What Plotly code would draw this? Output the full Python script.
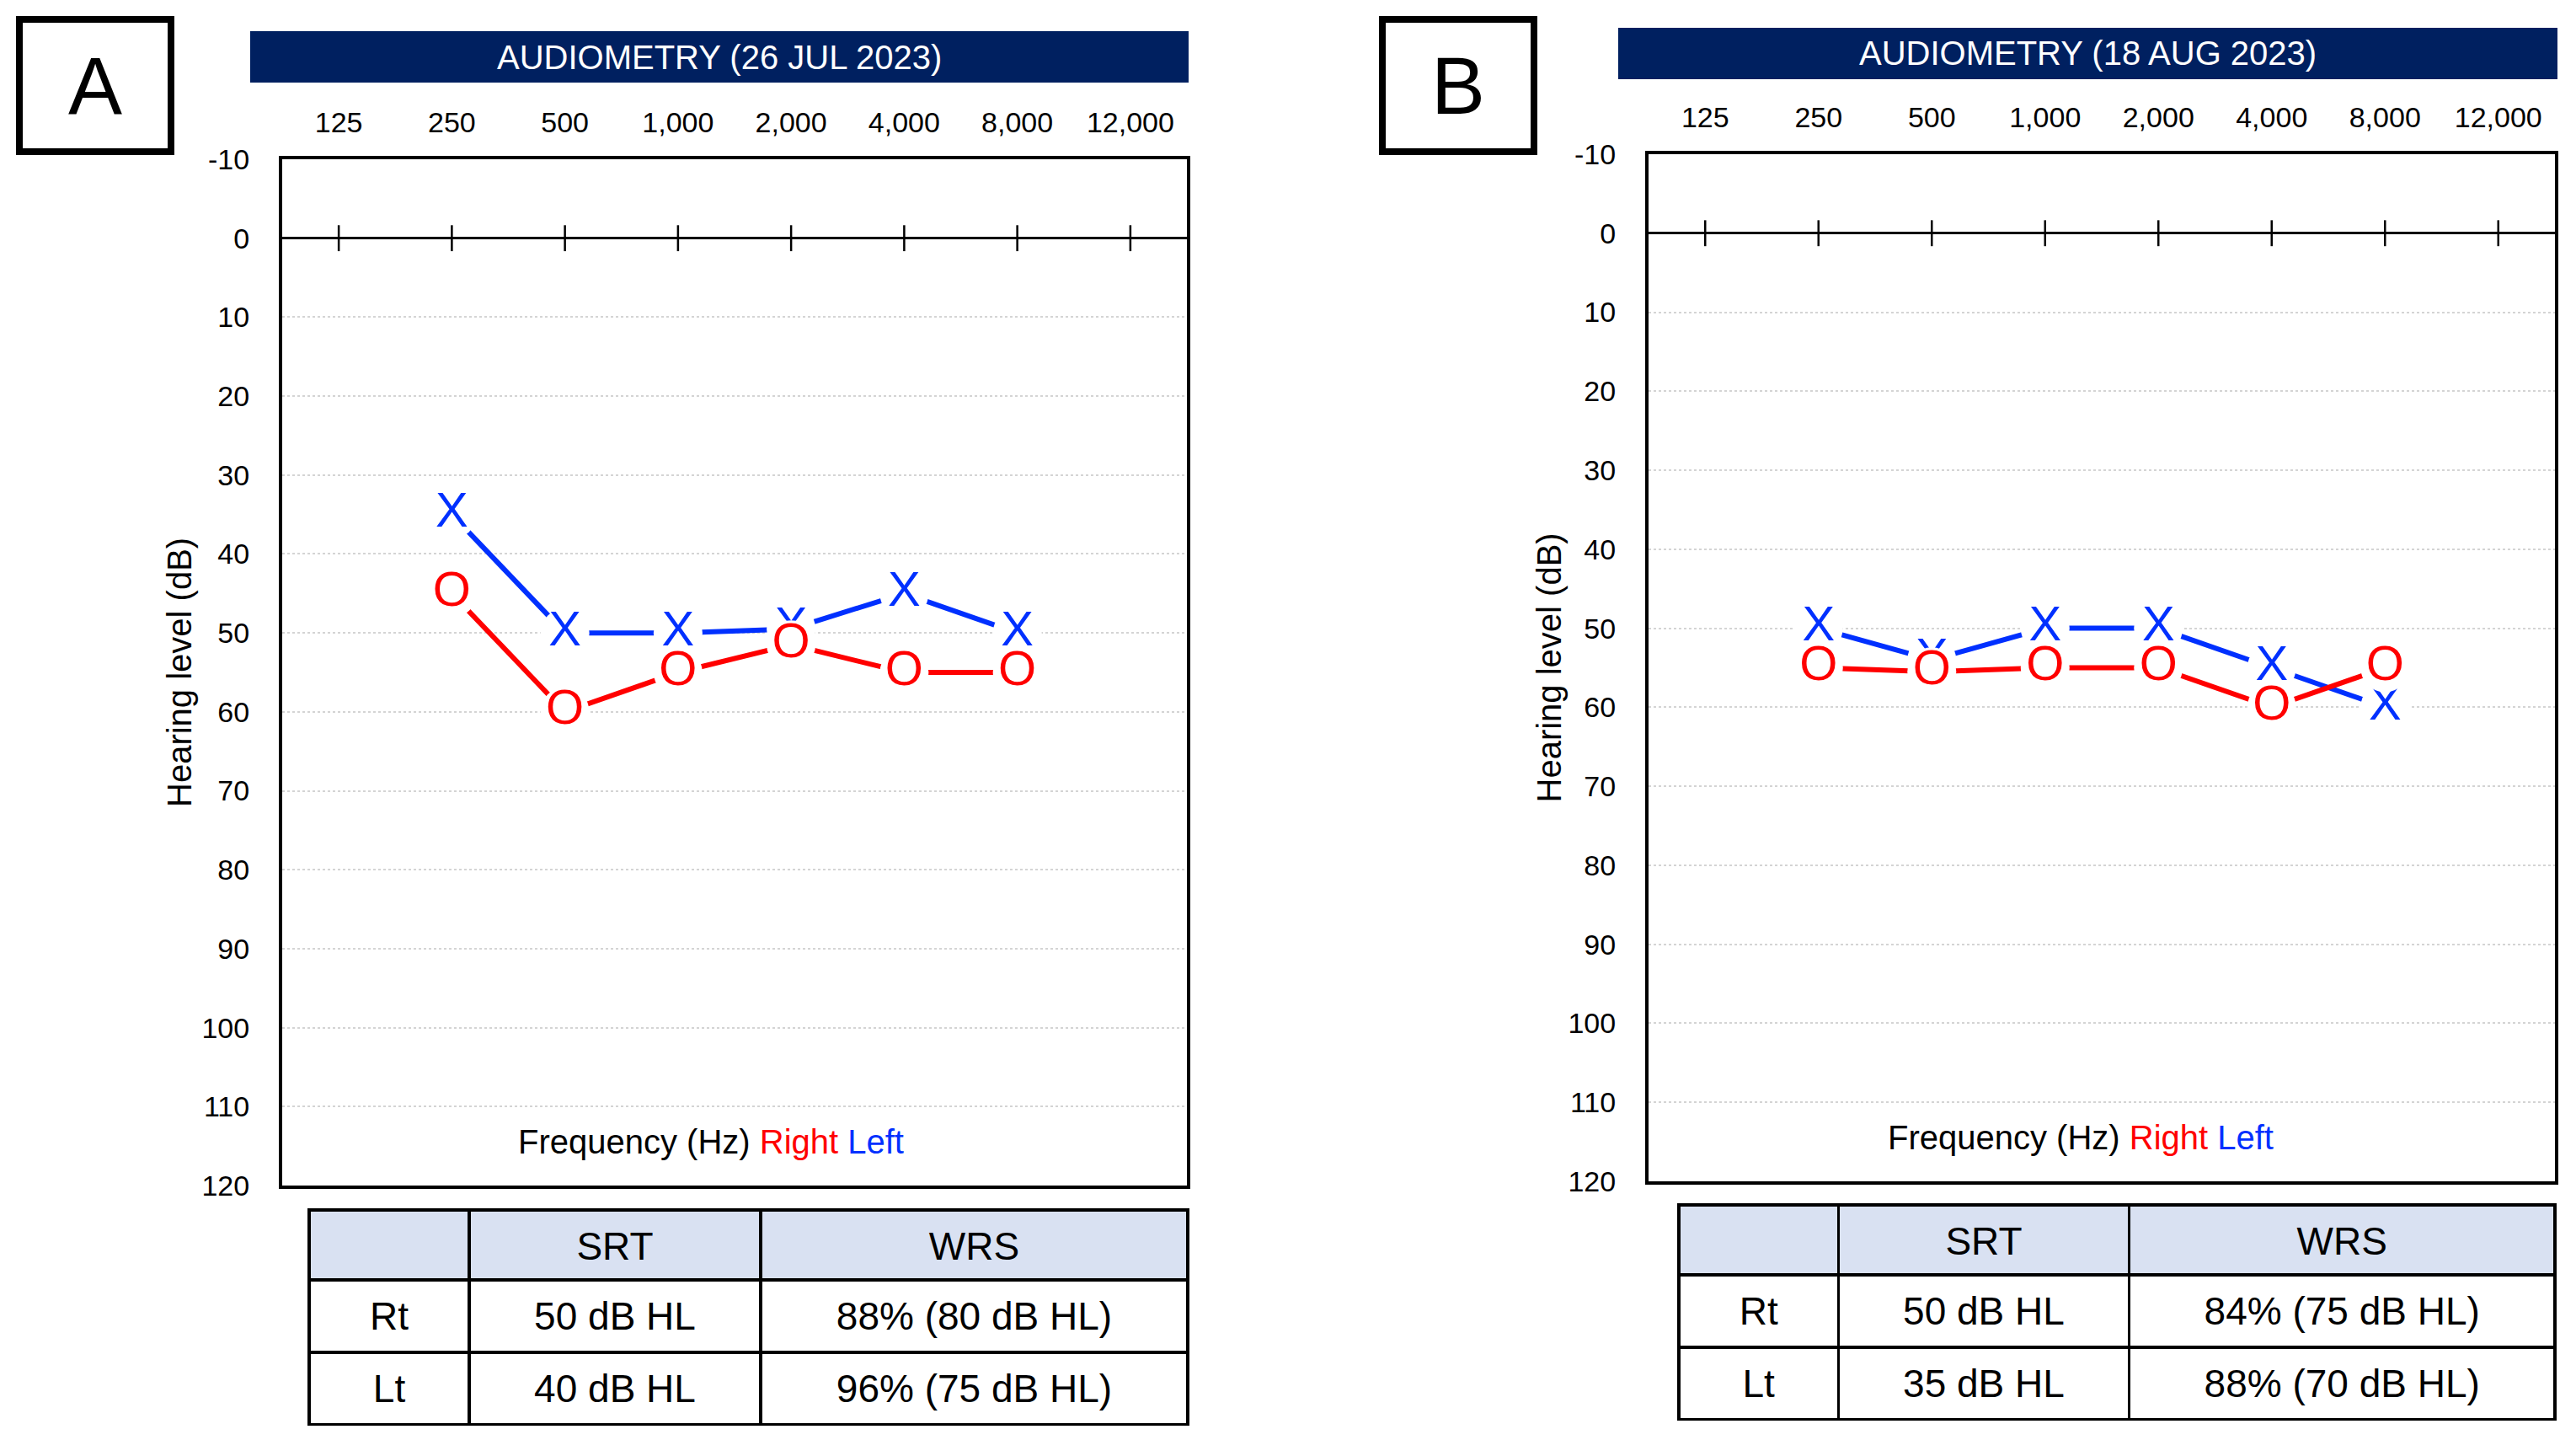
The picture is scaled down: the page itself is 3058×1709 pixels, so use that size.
import plotly.graph_objects as go

W, H = 3058, 1709
OFF = 8  # default page body margin
FW, FH = W - OFF, H - OFF
FONT = "Liberation Sans, Arial, sans-serif"
RED = "#FF0000"
BLUE = "#0030FF"

# ---------------- data ----------------
freq_labels = ["125", "250", "500", "1,000", "2,000", "4,000", "8,000", "12,000"]
test_freqs = ["250", "500", "1,000", "2,000", "4,000", "8,000"]

a_right = [45, 60, 55, 51.5, 55, 55]
a_left = [35, 50, 50, 49.5, 45, 50]
b_right = [55, 55.5, 55, 55, 60, 55]
b_left = [50, 54, 50, 50, 55, 60]

title_a = "AUDIOMETRY (26 JUL 2023)"
title_b = "AUDIOMETRY (18 AUG 2023)"

table_header = ["", "SRT", "WRS"]
row_labels = ["Rt", "Lt"]
srt_a = ["50 dB HL", "40 dB HL"]
wrs_a = ["88% (80 dB HL)", "96% (75 dB HL)"]
srt_b = ["50 dB HL", "35 dB HL"]
wrs_b = ["84% (75 dB HL)", "88% (70 dB HL)"]

y_ticks = list(range(-10, 121, 10))
y_tick_labels = [str(v) for v in y_ticks]


def px(x):
    return (x - OFF) / FW


def py(y):
    return 1 - (y - OFF) / FH


fig = go.Figure()

panels = [
    dict(xa="x", ya="y", xk="xaxis", yk="yaxis", right=a_right, left=a_left,
         plot=(335, 1409, 189, 1407), bar=(297, 1411, 37, 98), box=(23, 203, 23, 180),
         letter="A", title=title_a, table=(367, 1410, 1436, 1692), srt=srt_a, wrs=wrs_a,
         ylab_x=213, freq_x=844),
    dict(xa="x2", ya="y2", xk="xaxis2", yk="yaxis2", right=b_right, left=b_left,
         plot=(1957, 3033, 183, 1402), bar=(1921, 3036, 33, 94), box=(1641, 1821, 23, 180),
         letter="B", title=title_b, table=(1993, 3033, 1430, 1686), srt=srt_b, wrs=wrs_b,
         ylab_x=1838, freq_x=2470),
]

shapes = []
annotations = []

for p in panels:
    x0, x1, y0, y1 = p["plot"]
    # tick marks on the 0 dB line
    fig.add_trace(go.Scatter(
        x=freq_labels, y=[0] * len(freq_labels), mode="markers",
        marker=dict(symbol="line-ns", size=22, line=dict(width=2.5, color="black")),
        xaxis=p["xa"], yaxis=p["ya"], showlegend=False, hoverinfo="skip"))
    # left ear (X)
    fig.add_trace(go.Scatter(
        x=test_freqs, y=p["left"], mode="lines+markers+text", text=["X"] * len(test_freqs),
        textposition="middle center", textfont=dict(family=FONT, size=58, color=BLUE),
        line=dict(color=BLUE, width=6),
        marker=dict(symbol="circle", size=58, color="white", line=dict(width=0)),
        xaxis=p["xa"], yaxis=p["ya"], showlegend=False, name="Left"))
    # right ear (O)
    fig.add_trace(go.Scatter(
        x=test_freqs, y=p["right"], mode="lines+markers+text", text=["O"] * len(test_freqs),
        textposition="middle center", textfont=dict(family=FONT, size=58, color=RED),
        line=dict(color=RED, width=6),
        marker=dict(symbol="circle", size=58, color="white", line=dict(width=0)),
        xaxis=p["xa"], yaxis=p["ya"], showlegend=False, name="Right"))

    fig.update_layout({
        p["xk"]: dict(domain=[px(x0), px(x1)], type="category", categoryarray=freq_labels,
                      categoryorder="array", range=[-0.5, 7.5], side="top",
                      anchor=p["ya"], showgrid=False, zeroline=False, automargin=False,
                      showline=True, mirror=True, linecolor="black", linewidth=4,
                      ticks="outside", ticklen=14, tickcolor="rgba(0,0,0,0)",
                      tickfont=dict(family=FONT, size=34, color="black")),
        p["yk"]: dict(domain=[py(y1), py(y0)], range=[120, -10], anchor=p["xa"],
                      tickvals=y_ticks, ticktext=y_tick_labels, automargin=False,
                      showgrid=True, gridcolor="#D4D4D4", griddash="dot",
                      gridwidth=2, zeroline=True, zerolinecolor="black", zerolinewidth=2.5,
                      showline=True, mirror=True, linecolor="black", linewidth=4,
                      ticks="outside", ticklen=28, tickcolor="rgba(0,0,0,0)",
                      tickfont=dict(family=FONT, size=34, color="black")),
    })

    # title bar
    bx0, bx1, by0, by1 = p["bar"]
    shapes.append(dict(type="rect", xref="paper", yref="paper", x0=px(bx0), x1=px(bx1),
                       y0=py(by1), y1=py(by0), fillcolor="#002060", line=dict(width=0)))
    annotations.append(dict(xref="paper", yref="paper", x=px((bx0 + bx1) / 2), y=py((by0 + by1) / 2),
                            text=p["title"], showarrow=False, xanchor="center", yanchor="middle",
                            font=dict(family=FONT, size=40, color="white")))
    # panel letter box
    lx0, lx1, ly0, ly1 = p["box"]
    shapes.append(dict(type="rect", xref="paper", yref="paper", x0=px(lx0), x1=px(lx1),
                       y0=py(ly1), y1=py(ly0), line=dict(color="black", width=8)))
    annotations.append(dict(xref="paper", yref="paper", x=px((lx0 + lx1) / 2), y=py((ly0 + ly1) / 2),
                            text=p["letter"], showarrow=False, xanchor="center", yanchor="middle",
                            font=dict(family=FONT, size=96, color="black")))
    # y-axis title
    annotations.append(dict(xref="paper", yref="paper", x=px(p["ylab_x"]), y=py((y0 + y1) / 2),
                            text="Hearing level (dB)", textangle=-90, showarrow=False,
                            xanchor="center", yanchor="middle",
                            font=dict(family=FONT, size=40, color="black")))
    # frequency label inside the plot
    annotations.append(dict(xref="paper", yref="paper", x=px(p["freq_x"]), y=py(y1 - 52),
                            text='Frequency (Hz) <span style="color:#FF0000">Right</span> '
                                 '<span style="color:#0030FF">Left</span>',
                            showarrow=False, xanchor="center", yanchor="middle",
                            font=dict(family=FONT, size=40, color="black")))

    # table: grid + fills
    tx0, tx1, ty0, ty1 = p["table"]
    fig.add_trace(go.Table(
        domain=dict(x=[px(tx0), px(tx1)], y=[py(ty1), py(ty0)]),
        columnwidth=[190, 346, 507],
        header=dict(values=["", "", ""], fill_color="#D9E1F2", height=83,
                    line=dict(color="black", width=3.5)),
        cells=dict(values=[["", ""], ["", ""], ["", ""]], fill_color="white",
                   height=86, line=dict(color="black", width=3.5)),
    ))
    # table: text layer, nudged down to centre the text in each cell
    shift = 16
    fig.add_trace(go.Table(
        domain=dict(x=[px(tx0), px(tx1)], y=[py(ty1 + shift), py(ty0 + shift)]),
        columnwidth=[190, 346, 507],
        header=dict(values=table_header, fill_color="rgba(0,0,0,0)", align="center", height=83,
                    line=dict(color="rgba(0,0,0,0)", width=0),
                    font=dict(family=FONT, size=46, color="black")),
        cells=dict(values=[row_labels, p["srt"], p["wrs"]], fill_color="rgba(0,0,0,0)",
                   align="center", height=86, line=dict(color="rgba(0,0,0,0)", width=0),
                   font=dict(family=FONT, size=46, color="black")),
    ))

fig.update_layout(width=FW, height=FH, margin=dict(l=0, r=0, t=0, b=0, autoexpand=False),
                  paper_bgcolor="white", plot_bgcolor="white",
                  shapes=shapes, annotations=annotations, showlegend=False)

fig.write_html("out.html")
